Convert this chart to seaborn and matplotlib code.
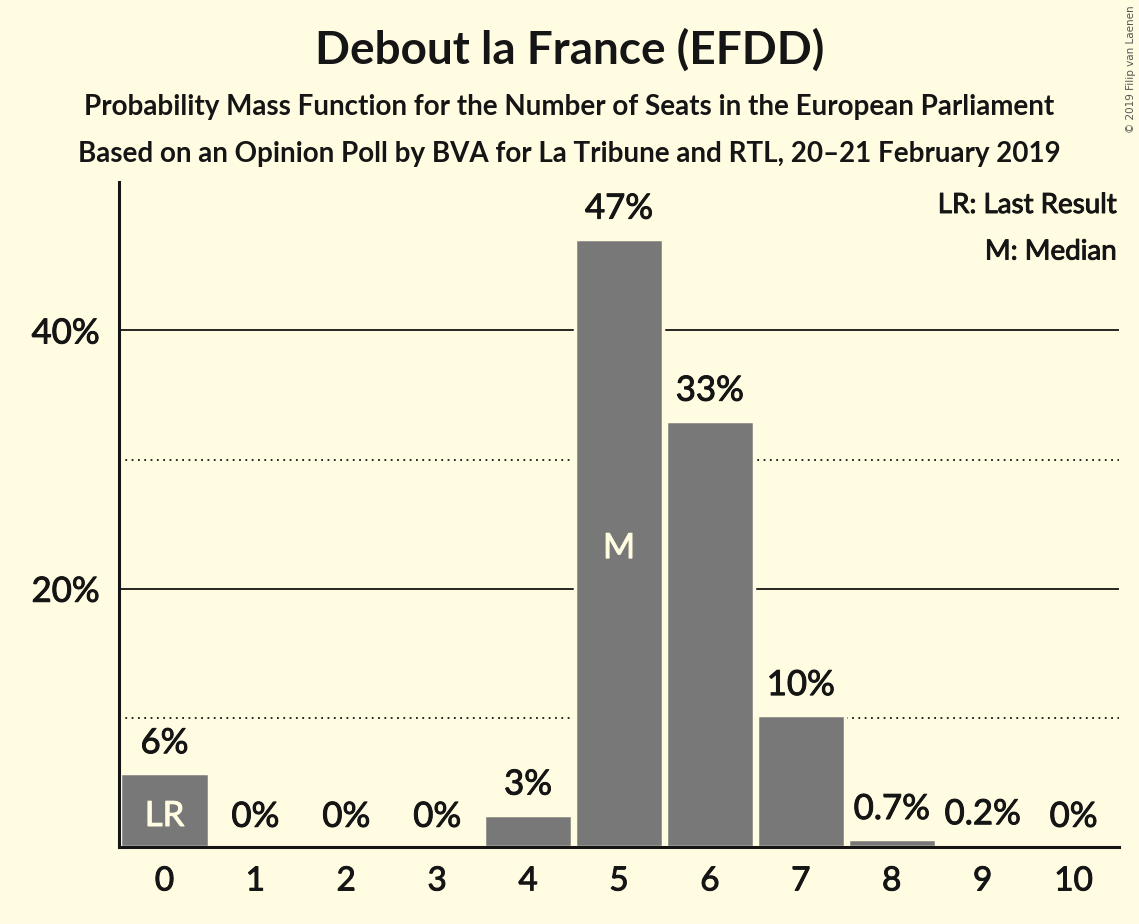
import matplotlib.pyplot as plt
import matplotlib.patheffects as pe
import seaborn as sns
import pandas as pd

# Data
seats = [0, 1, 2, 3, 4, 5, 6, 7, 8, 9, 10]
probs = [5.7, 0.0, 0.0, 0.0, 2.5, 47.1, 33.0, 10.2, 0.6, 0.2, 0.0]
labels = ['6%', '0%', '0%', '0%', '3%', '47%', '33%', '10%', '0.7%', '0.2%', '0%']
inside = {0: 'LR', 5: 'M'}

bg = '#FFFCE2'
bar_color = '#787878'
ink = '#151515'

sns.set_style('white')
plt.rcParams['font.family'] = ['Lato', 'DejaVu Sans']

# Lato here has no medium face, so thicken regular glyphs a bit
heavy = [pe.withStroke(linewidth=0.7, foreground=ink)]
heavy_bg = [pe.withStroke(linewidth=0.7, foreground=bg)]

df = pd.DataFrame({'seats': seats, 'prob': probs})

fig = plt.figure(figsize=(11.39, 9.24), dpi=100, facecolor=bg)
ax = fig.add_axes([119 / 1139, 1 - 847 / 924, 1000 / 1139, 665 / 924])
ax.set_facecolor(bg)

# grid
for y in [20, 40]:
    ax.axhline(y, color=ink, lw=1.3, zorder=0)
for y in [10, 30]:
    ax.axhline(y, color=ink, lw=1.3, ls=(0, (1, 2.5)), zorder=0)

sns.barplot(data=df, x='seats', y='prob', color=bar_color, saturation=1,
            width=0.97, edgecolor=bg, linewidth=2.5, ax=ax, zorder=2)

ax.set_xlim(-0.5, 10.5)
ax.set_ylim(0, 51.5)

for i, (p, lab) in enumerate(zip(probs, labels)):
    ax.text(i, p + 1.1, lab, ha='center', va='bottom', fontsize=25,
            color=ink, zorder=3, path_effects=heavy)
for i, t in inside.items():
    ax.text(i, probs[i] / 2 - 0.4 if i != 0 else 2.4, t, ha='center', va='center',
            fontsize=25, color=bg, zorder=3, path_effects=heavy_bg)

ax.set_yticks([20, 40])
ax.set_yticklabels(['20%', '40%'], fontsize=25, color=ink, path_effects=heavy)
ax.set_xticks(range(len(seats)))
ax.set_xticklabels([str(s) for s in seats], fontsize=24, color=ink, path_effects=heavy)
ax.tick_params(axis='both', length=0, pad=14)
ax.set_xlabel('')
ax.set_ylabel('')

for side in ['top', 'right']:
    ax.spines[side].set_visible(False)
for side in ['left', 'bottom']:
    ax.spines[side].set_color(ink)
    ax.spines[side].set_linewidth(2.2)

ax.text(0.998, 0.985, 'LR: Last Result', transform=ax.transAxes, ha='right',
        va='top', fontsize=20, color=ink, path_effects=heavy)
ax.text(0.998, 0.915, 'M: Median', transform=ax.transAxes, ha='right',
        va='top', fontsize=20, color=ink, path_effects=heavy)

fig.text(0.5, 1 - 50 / 924, 'Debout la France (EFDD)', ha='center', va='center',
         fontsize=33, fontweight='bold', color=ink)
fig.text(0.5, 1 - 107 / 924,
         'Probability Mass Function for the Number of Seats in the European Parliament',
         ha='center', va='center', fontsize=20, fontweight='bold', color=ink)
fig.text(0.5, 1 - 154 / 924,
         'Based on an Opinion Poll by BVA for La Tribune and RTL, 20\u201321 February 2019',
         ha='center', va='center', fontsize=20, fontweight='bold', color=ink)
fig.text(1 - 8 / 1139, 1 - 5 / 924, '\u00a9 2019 Filip van Laenen', rotation=90,
         ha='center', va='top', fontsize=7.5, color='#555555',
         family=['DejaVu Sans'])

fig.savefig('out.png', dpi=100, facecolor=bg)
